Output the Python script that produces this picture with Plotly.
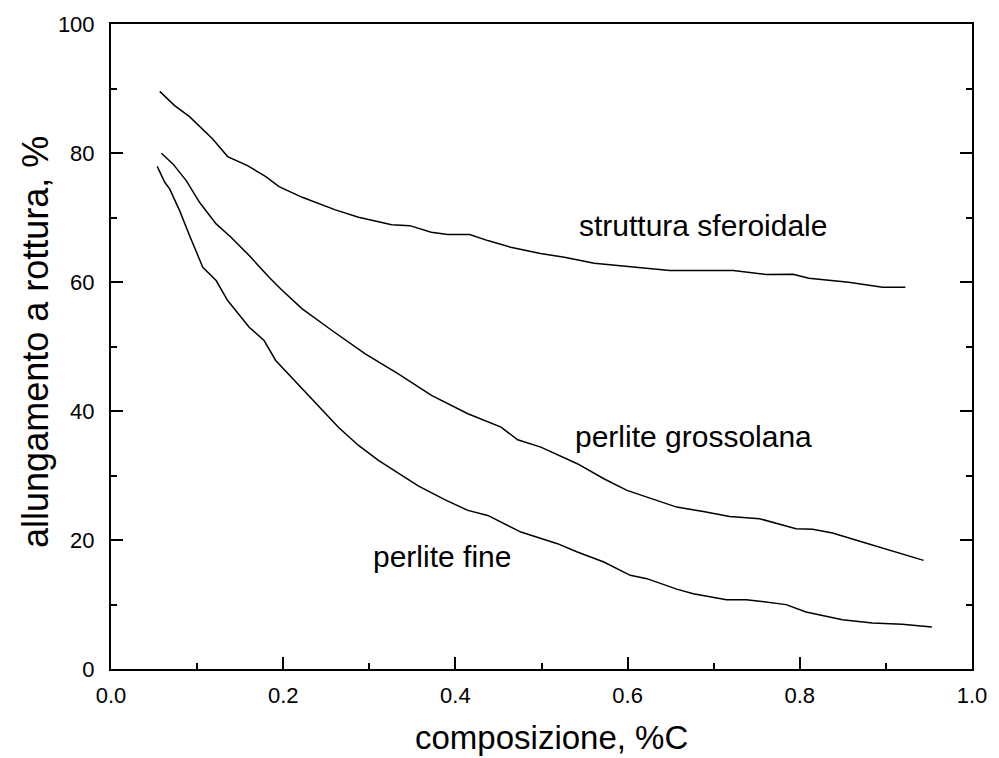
import plotly.graph_objects as go

# struttura sferoidale
x_sfer = [0.0566, 0.0739, 0.0912, 0.1181, 0.1355, 0.1585, 0.1798, 0.1952, 0.2221, 0.2606,
          0.2875, 0.326, 0.347, 0.372, 0.391, 0.4165, 0.4376, 0.4642, 0.4988, 0.5266,
          0.5612, 0.5993, 0.649, 0.7229, 0.761, 0.7921, 0.8106, 0.8568, 0.8961, 0.9226]
y_sfer = [89.56, 87.34, 85.64, 82.18, 79.44, 78.04, 76.34, 74.79, 73.13, 71.18,
          70.03, 68.89, 68.74, 67.71, 67.35, 67.35, 66.42, 65.39, 64.41, 63.84,
          62.91, 62.39, 61.77, 61.77, 61.16, 61.2, 60.58, 59.96, 59.19, 59.19]

# perlite grossolana
x_gros = [0.0585, 0.0719, 0.0874, 0.1028, 0.1221, 0.1394, 0.1605, 0.1836, 0.199, 0.2221,
          0.2567, 0.2953, 0.3337, 0.3453, 0.3722, 0.4145, 0.453, 0.4723, 0.4992, 0.5416,
          0.5724, 0.5993, 0.6224, 0.657, 0.6879, 0.7186, 0.7532, 0.7956, 0.8149, 0.838,
          0.8726, 0.9111, 0.9438]
y_gros = [79.95, 78.31, 75.72, 72.36, 69.01, 66.93, 64.10, 60.74, 58.68, 55.84,
          52.48, 48.87, 45.77, 44.74, 42.41, 39.57, 37.50, 35.54, 34.40, 31.83,
          29.50, 27.69, 26.65, 25.10, 24.43, 23.66, 23.30, 21.75, 21.65, 21.07,
          19.68, 18.13, 16.84]

# perlite fine
x_fine = [0.0537, 0.0624, 0.0681, 0.0797, 0.0912, 0.1066, 0.1221, 0.1355, 0.1605, 0.1778,
          0.1913, 0.2221, 0.2644, 0.2875, 0.3106, 0.3568, 0.3876, 0.4145, 0.4376, 0.4761,
          0.5185, 0.5416, 0.5724, 0.6031, 0.6224, 0.657, 0.6763, 0.7148, 0.7379, 0.7841,
          0.8072, 0.8495, 0.8842, 0.9188, 0.9534]
y_fine = [77.92, 75.46, 74.43, 71.07, 67.20, 62.29, 60.23, 57.13, 52.99, 50.93,
          47.83, 43.45, 37.45, 34.66, 32.34, 28.38, 26.25, 24.59, 23.81, 21.23,
          19.43, 18.13, 16.58, 14.52, 14.01, 12.38, 11.68, 10.75, 10.75, 9.98,
          8.83, 7.65, 7.13, 6.93, 6.51]

labels = ["struttura sferoidale", "perlite grossolana", "perlite fine"]
label_x = [0.687, 0.676, 0.385]
label_y = [68.7, 36.0, 17.5]

x_title = "composizione, %C"
y_title = "allungamento a rottura, %"

x_ticks = [0.0, 0.2, 0.4, 0.6, 0.8, 1.0]
x_ticktext = ["0.0", "0.2", "0.4", "0.6", "0.8", "1.0"]
y_ticks = [0, 20, 40, 60, 80, 100]

FONT = "Liberation Sans, Arial, sans-serif"

fig = go.Figure()
for xs, ys in [(x_sfer, y_sfer), (x_gros, y_gros), (x_fine, y_fine)]:
    fig.add_trace(go.Scatter(x=xs, y=ys, mode="lines",
                             line=dict(color="black", width=1.5), showlegend=False,
                             hoverinfo="skip"))

for t, lx, ly in zip(labels, label_x, label_y):
    fig.add_annotation(x=lx, y=ly, text=t, showarrow=False,
                       font=dict(family=FONT, size=30, color="black"))

# axis titles (paper coords relative to plot area: left 111, right 977, top 23, bottom 669)
fig.add_annotation(x=(554 - 111) / 866, y=(669 - 738) / 646, xref="paper", yref="paper",
                   xanchor="center", yanchor="middle", text=x_title, showarrow=False,
                   font=dict(family=FONT, size=33, color="black"))
fig.add_annotation(x=(35 - 111) / 866, y=(669 - 341) / 646, xref="paper", yref="paper",
                   xanchor="center", yanchor="middle", text=y_title, showarrow=False,
                   textangle=-90, font=dict(family=FONT, size=36, color="black"))

axis_common = dict(showgrid=False, zeroline=False, showline=True, linecolor="black",
                   linewidth=2, ticks="inside", tickcolor="black", tickwidth=2,
                   ticklen=12, tickfont=dict(family=FONT, size=22, color="black"))

fig.update_xaxes(range=[0, 1.0], tickvals=x_ticks, ticktext=x_ticktext, mirror=True,
                 ticklabelstandoff=6,
                 minor=dict(ticks="inside", dtick=0.1, tick0=0, ticklen=6, tickwidth=2,
                            tickcolor="black"),
                 **axis_common)
fig.update_yaxes(range=[0, 100], tickvals=y_ticks, mirror="ticks",
                 ticklabelstandoff=10,
                 minor=dict(ticks="inside", dtick=10, tick0=0, ticklen=6, tickwidth=2,
                            tickcolor="black"),
                 **axis_common)

fig.update_layout(width=999, height=758, margin=dict(l=111, r=22, t=23, b=89),
                  plot_bgcolor="white", paper_bgcolor="white")

fig.write_html("out.html")
